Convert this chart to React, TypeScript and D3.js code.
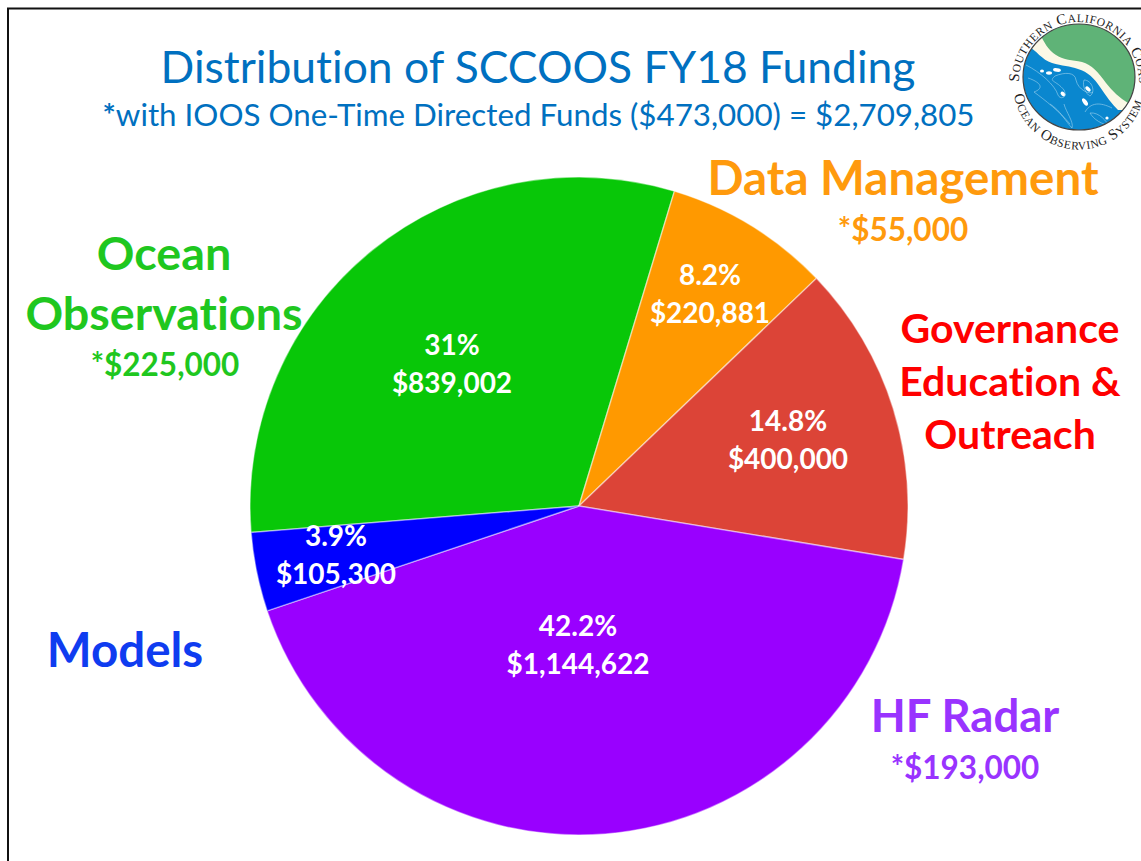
import React from "react";
import * as d3 from "d3";

const categories = ["Ocean Observations", "Data Management", "Governance Education & Outreach", "HF Radar", "Models"];
const funding = [839002, 220881, 400000, 1144622, 105300];
const percentLabels = ["31%", "8.2%", "14.8%", "42.2%", "3.9%"];
const dollarLabels = ["$839,002", "$220,881", "$400,000", "$1,144,622", "$105,300"];
const sliceColors = ["#08c708", "#ff9900", "#dc4437", "#9900ff", "#0000ff"];
const labelCenters: [number, number][] = [[452, 364], [710, 294], [788, 440], [578, 645], [336, 555]];

const calloutLines = [
  { lines: ["Ocean", "Observations"], x: 164, ys: [270, 330], size: 46.7, color: "#1fc71f" },
  { lines: ["*$225,000"], x: 165, ys: [376], size: 31.5, color: "#1fc71f" },
  { lines: ["Data Management"], x: 903, ys: [195], size: 47.5, color: "#ff9a0d" },
  { lines: ["*$55,000"], x: 903, ys: [241], size: 31.5, color: "#ff9a0d" },
  { lines: ["Governance", "Education &", "Outreach"], x: 1010, ys: [343, 396, 449], size: 41, color: "#ff0000" },
  { lines: ["Models"], x: 125, ys: [667], size: 47.5, color: "#0f3cf0" },
  { lines: ["HF Radar"], x: 965, ys: [732], size: 45.5, color: "#9933ff" },
  { lines: ["*$193,000"], x: 965, ys: [779], size: 31.5, color: "#9933ff" },
];

const FONT = "Lato, Carlito, sans-serif";
const cx = 579, cy = 506, R = 329;
const deg = Math.PI / 180;

function SmallCaps({ text }: { text: string }) {
  return (
    <>
      {text.split(" ").map((w, i) => (
        <React.Fragment key={i}>
          <tspan fontSize="15">{(i ? " " : "") + w[0]}</tspan>
          <tspan fontSize="11.5">{w.slice(1)}</tspan>
        </React.Fragment>
      ))}
    </>
  );
}

function Logo() {
  return (
    <g>
      <defs>
        <clipPath id="logoClip"><ellipse cx={1079} cy={77} rx={56} ry={53} /></clipPath>
        <path id="logoTop" d="M 1019 82 A 60 60 0 1 1 1139 82" />
        <path id="logoBottom" d="M 1014 95 A 66 66 0 0 0 1144 95" />
      </defs>
      <g clipPath="url(#logoClip)">
        <rect x={1020} y={20} width={118} height={115} fill="#0a87cf" />
        <path d="M 1028 46 C 1036 50, 1042 60, 1052 63 C 1062 66, 1070 66, 1078 69 C 1088 72, 1094 78, 1100 87 C 1106 96, 1112 104, 1118 110 L 1140 110 L 1140 20 L 1028 20 Z" fill="#fbf8e6" />
        <path d="M 1040 34 C 1044 42, 1048 50, 1056 55 C 1064 60, 1072 60, 1082 62 C 1092 65, 1098 72, 1106 83 C 1112 91, 1120 98, 1128 103 L 1140 110 L 1140 20 L 1040 20 Z" fill="#5fb377" />
        <g fill="#fff">
          <ellipse cx={1057} cy={70} rx={4} ry={1.8} transform="rotate(8 1057 70)" />
          <ellipse cx={1049} cy={73} rx={3} ry={1.7} />
          <ellipse cx={1042} cy={71} rx={2} ry={1.6} />
          <ellipse cx={1063} cy={94} rx={2.8} ry={1.8} transform="rotate(40 1063 94)" />
          <ellipse cx={1088} cy={89} rx={3.2} ry={1.8} transform="rotate(45 1088 89)" />
          <ellipse cx={1085} cy={102} rx={4.2} ry={2} transform="rotate(55 1085 102)" />
          <circle cx={1107} cy={118} r={1.6} />
        </g>
        <g fill="none" stroke="#9fd3ee" strokeWidth={0.6}>
          <path d="M 1026 65 C 1040 72, 1055 85, 1058 95 C 1060 100, 1068 98, 1064 90 C 1056 80, 1048 82, 1055 76 C 1065 72, 1075 72, 1076 80 C 1078 90, 1090 95, 1093 92" />
          <path d="M 1028 78 C 1040 82, 1045 88, 1034 92 C 1045 100, 1060 112, 1070 124" />
          <path d="M 1084 80 C 1092 80, 1096 92, 1090 96 C 1086 94, 1082 86, 1084 80 Z" />
          <path d="M 1050 104 C 1060 110, 1066 122, 1072 128 C 1074 122, 1066 112, 1064 104" />
          <path d="M 1090 113 C 1100 112, 1106 122, 1110 126 C 1102 124, 1094 120, 1090 113 Z" />
          <path d="M 1085 112 C 1092 100, 1104 104, 1112 108" />
        </g>
      </g>
      <ellipse cx={1079} cy={77} rx={56} ry={53} fill="none" stroke="#444" strokeWidth={1.2} />
      <text fontFamily="Liberation Serif, serif" fill="#222" letterSpacing={0.6}>
        <textPath href="#logoTop"><SmallCaps text="SOUTHERN CALIFORNIA COASTAL" /></textPath>
      </text>
      <text fontFamily="Liberation Serif, serif" fill="#222" letterSpacing={0.6}>
        <textPath href="#logoBottom"><SmallCaps text="OCEAN OBSERVING SYSTEM" /></textPath>
      </text>
    </g>
  );
}

export default function App() {
  const pie = d3.pie<number>().sort(null).startAngle(-94.6 * deg).endAngle(265.4 * deg);
  const arc = d3.arc<d3.PieArcDatum<number>>().innerRadius(0).outerRadius(R);
  const arcs = pie(funding);
  return (
    <svg width={1141} height={861} style={{ position: "absolute", left: 0, top: 0, background: "#fff", fontVariantLigatures: "none" }}>
      <rect x={8} y={8.5} width={1150} height={870} fill="#fff" stroke="#111" strokeWidth={2} />
      <text x={538} y={83} textAnchor="middle" fontFamily={FONT} fontSize={44.4} fill="#0070c0">Distribution of SCCOOS FY18 Funding</text>
      <text x={538.5} y={126} textAnchor="middle" fontFamily={FONT} fontSize={31.3} fill="#0070c0">
        <tspan fontWeight="bold">*</tspan>with IOOS One-Time Directed Funds ($473,000) = $2,709,805
      </text>
      <Logo />
      <g transform={`translate(${cx},${cy})`}>
        {arcs.map((a, i) => (
          <path key={categories[i]} d={arc(a) ?? ""} fill={sliceColors[i]} stroke="#fff" strokeOpacity={0.45} strokeWidth={1.5} />
        ))}
      </g>
      {arcs.map((_, i) => (
        <g key={i} textAnchor="middle" fontFamily={FONT} fontWeight="bold" fontSize={28} fill="#fff">
          <text x={labelCenters[i][0]} y={labelCenters[i][1] - 9}>{percentLabels[i]}</text>
          <text x={labelCenters[i][0]} y={labelCenters[i][1] + 29}>{dollarLabels[i]}</text>
        </g>
      ))}
      {calloutLines.map((c, i) => (
        <g key={i} textAnchor="middle" fontFamily={FONT} fontWeight="bold" fontSize={c.size} fill={c.color}>
          {c.lines.map((l, j) => <text key={l} x={c.x} y={c.ys[j]}>{l}</text>)}
        </g>
      ))}
    </svg>
  );
}
